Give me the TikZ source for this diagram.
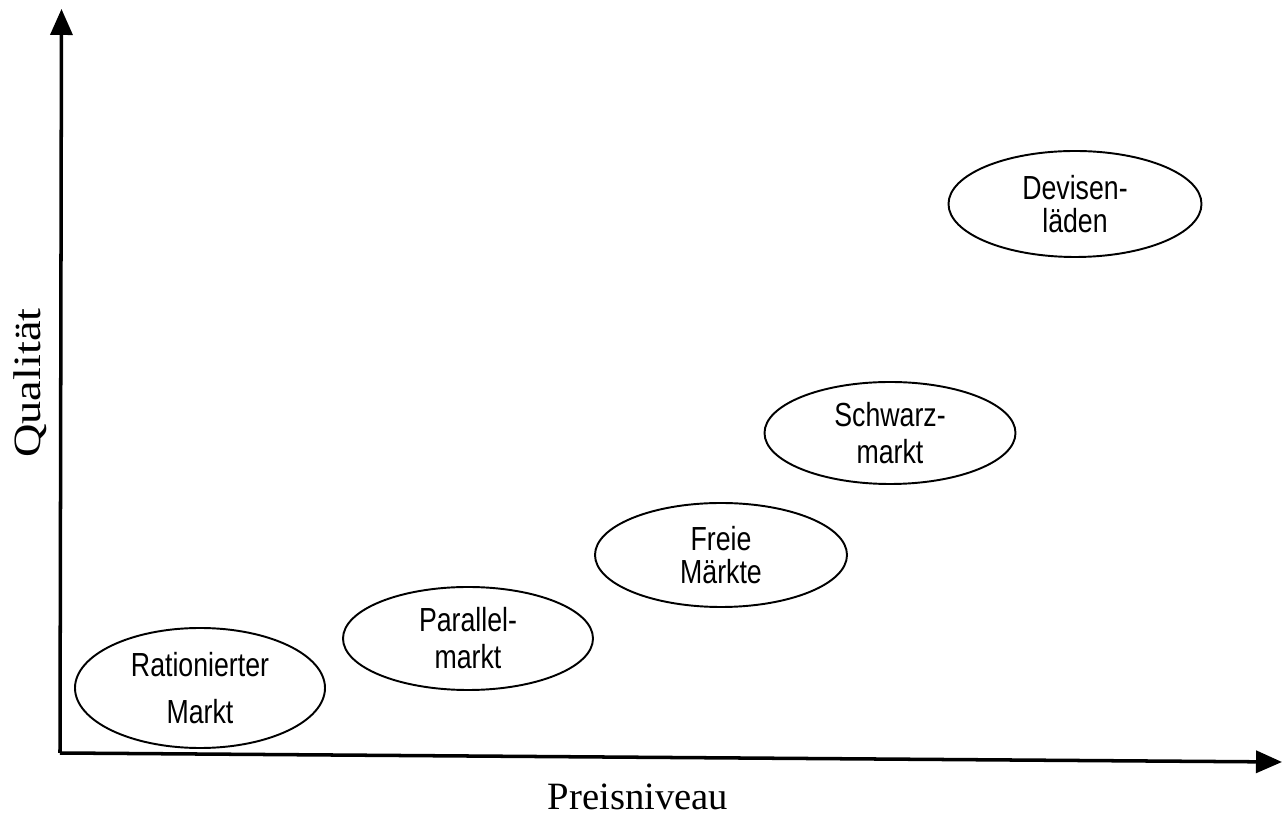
\documentclass[tikz,border=0pt]{standalone}
\usepackage{fontspec}
\usepackage{tikz}
\usetikzlibrary{shapes.geometric,arrows.meta}

\newfontfamily\markfont[FakeStretch=0.8]{Liberation Sans}
\newfontfamily\axisfont{Liberation Serif}
\newfontfamily\qualfont[FakeStretch=1.2]{Liberation Serif}

\tikzset{
    markt/.style={draw, ellipse, line width=1.1pt, inner sep=0pt, align=center,
        minimum width=5cm, minimum height=2.06cm,
        font=\markfont\fontsize{19}{18.7}\selectfont},
    achse/.style={line width=2pt, -{Triangle[length=0.52cm,width=0.44cm]}}
}

\begin{document}
\begin{tikzpicture}
    \useasboundingbox (0,0) rectangle (25.66,16.34);

    % Draw the axes
    \coordinate (O) at (1.2,1.28);
    \coordinate (xend) at (25.64,1.1);
    \coordinate (yend) at (1.23,16.16);
    \draw[achse] (O) -- (xend);
    \draw[achse] (O) -- (yend);

    % Axis labels
    \node[anchor=base, inner sep=0pt, text depth=0pt, font=\axisfont\fontsize{22}{26}\selectfont] (preis) at (12.76,0.14) {Preisniveau};
    \node[anchor=base, rotate=90, inner sep=0pt, font=\qualfont\fontsize{22}{26}\selectfont] (qual) at (0.8,8.68) {Qualität};

    % Markets
    \node[markt, minimum height=2.4cm] (ration) at (4.0,2.58) {Rationierter\\[8.5pt]Markt};
    \node[markt] (parallel) at (9.36,3.57) {Parallel-\\[2.3pt]markt};
    \node[markt, minimum width=5.04cm, minimum height=2.08cm] (frei) at (14.42,5.24) {Freie\\Märkte};
    \node[markt, minimum width=5.02cm, minimum height=2.04cm] (schwarz) at (17.8,7.68) {Schwarz-\\[2.3pt]markt};
    \node[markt, minimum width=5.06cm, minimum height=2.12cm] (devisen) at (21.5,12.26) {Devisen-\\läden};
\end{tikzpicture}
\end{document}
